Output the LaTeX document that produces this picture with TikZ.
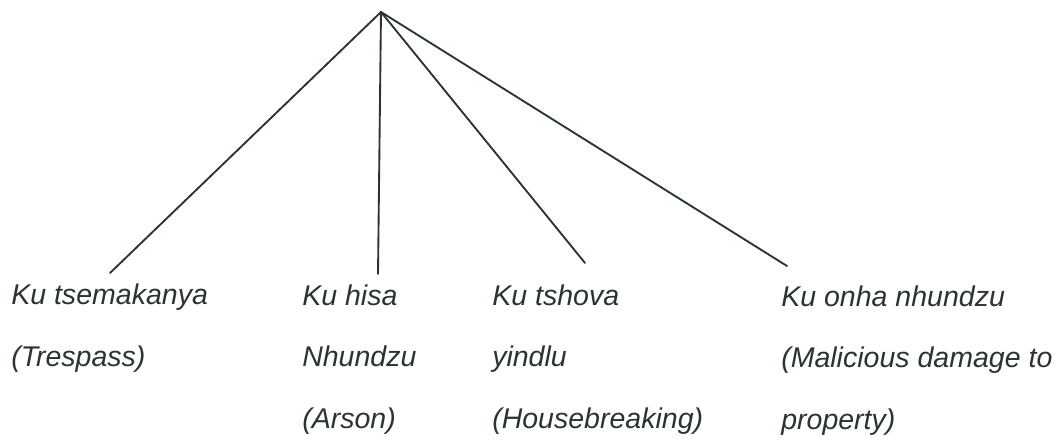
\documentclass[tikz,border=0pt]{standalone}
\usepackage{fontspec}
\setmainfont{Liberation Sans}
\definecolor{ink}{RGB}{42,52,48}

\begin{document}
\begin{tikzpicture}[x=0.75pt,y=0.75pt,yscale=-1,xscale=1,
	crime/.style={anchor=base west,inner sep=0pt,align=left,text=ink,font=\itshape\fontsize{21.4}{46}\selectfont},
	branch/.style={draw=ink,line width=1.4pt,line cap=round}]
	\useasboundingbox (0,0) rectangle (1062,444);
	\coordinate (top) at (381,12);
	\coordinate (e1) at (110,273);
	\coordinate (e2) at (378,274);
	\coordinate (e3) at (585,263);
	\coordinate (e4) at (787,266);
	\draw [branch] (top) -- (e1);
	\draw [branch] (top) -- (e2);
	\draw [branch] (top) -- (e3);
	\draw [branch] (top) -- (e4);
	% base west is the baseline of the last line
	\node (tres) at (11,366) [crime] {Ku tsemakanya\\(Trespass)};
	\node (arson) at (302,428) [crime] {Ku hisa\\Nhundzu\\(Arson)};
	\node (house) at (492,428) [crime] {Ku tshova\\yindlu\\(Housebreaking)};
	\node (damage) at (781,429) [crime] {Ku onha nhundzu\\(Malicious damage to\\property)};
\end{tikzpicture}
\end{document}
